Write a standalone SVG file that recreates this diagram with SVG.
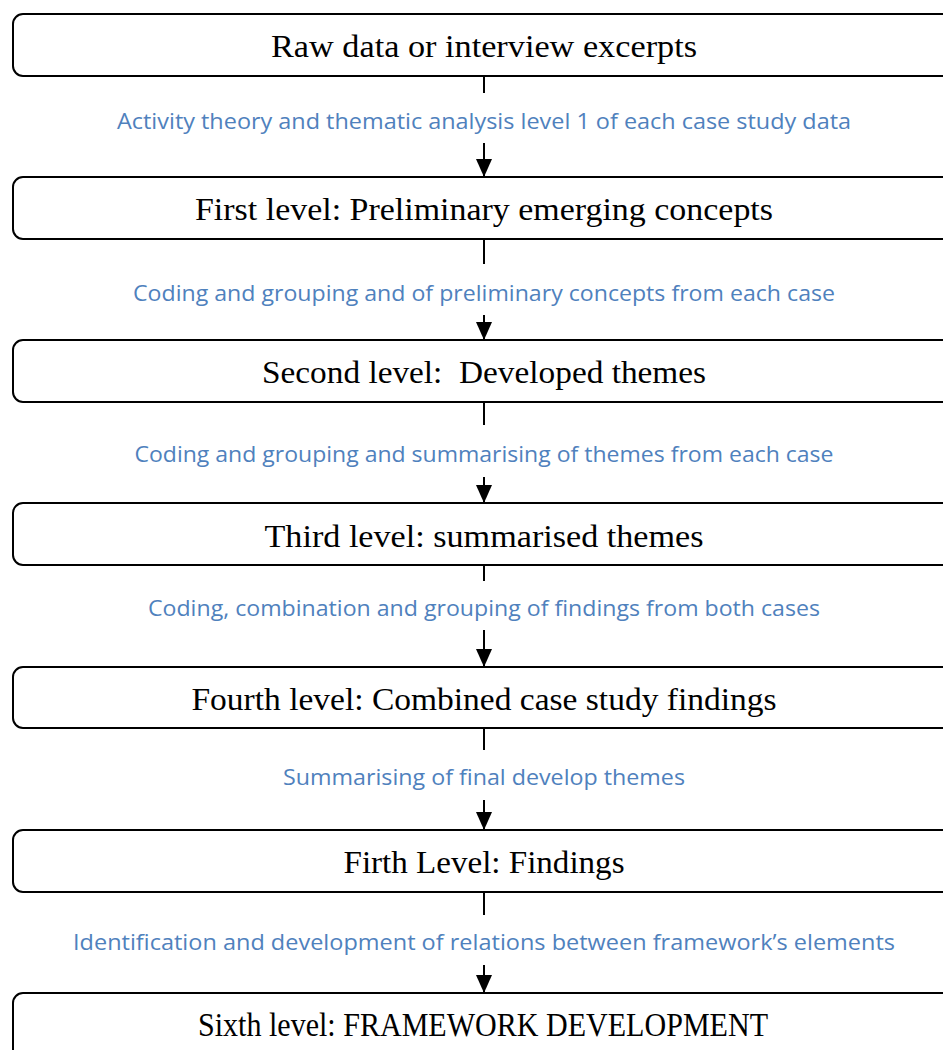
<svg xmlns="http://www.w3.org/2000/svg" width="943" height="1050" viewBox="0 0 943 1050">
<defs>
<style>
.box{fill:#fff;stroke:#000;stroke-width:2}
.t{font-family:"Liberation Serif",serif;font-size:32px;fill:#000}
.t7{font-family:"Liberation Serif",serif;font-size:34px;fill:#000}
.l{font-family:"Open Sans","Liberation Sans",sans-serif;font-size:22px;fill:#4F81BD}
.c{stroke:#000;stroke-width:2;fill:none}
</style>
<marker id="arr" viewBox="0 0 18 16" refX="18" refY="8" markerWidth="18" markerHeight="16" markerUnits="userSpaceOnUse" orient="auto">
<path d="M0,0 L18,8 L0,16 Z" fill="#000"/>
</marker>
</defs>
<rect width="943" height="1050" fill="#fff"/>
<g id="connectors">
<line class="c" x1="484" y1="76" x2="484" y2="93"/>
<line class="c" x1="484" y1="143" x2="484" y2="177" marker-end="url(#arr)"/>
<line class="c" x1="484" y1="239" x2="484" y2="264"/>
<line class="c" x1="484" y1="315" x2="484" y2="340" marker-end="url(#arr)"/>
<line class="c" x1="484" y1="402" x2="484" y2="425"/>
<line class="c" x1="484" y1="477" x2="484" y2="503" marker-end="url(#arr)"/>
<line class="c" x1="484" y1="565" x2="484" y2="581"/>
<line class="c" x1="484" y1="630" x2="484" y2="667" marker-end="url(#arr)"/>
<line class="c" x1="484" y1="728" x2="484" y2="750"/>
<line class="c" x1="484" y1="800" x2="484" y2="830" marker-end="url(#arr)"/>
<line class="c" x1="484" y1="892" x2="484" y2="915"/>
<line class="c" x1="484" y1="965" x2="484" y2="993" marker-end="url(#arr)"/>
<text class="l" x="484" y="129" text-anchor="middle" textLength="734" lengthAdjust="spacingAndGlyphs">Activity theory and thematic analysis level 1 of each case study data</text>
<text class="l" x="484" y="301" text-anchor="middle" textLength="702" lengthAdjust="spacingAndGlyphs">Coding and grouping and of preliminary concepts from each case</text>
<text class="l" x="484" y="462" text-anchor="middle" textLength="699" lengthAdjust="spacingAndGlyphs">Coding and grouping and summarising of themes from each case</text>
<text class="l" x="484" y="616" text-anchor="middle" textLength="672" lengthAdjust="spacingAndGlyphs">Coding, combination and grouping of findings from both cases</text>
<text class="l" x="484" y="785" text-anchor="middle" textLength="402" lengthAdjust="spacingAndGlyphs">Summarising of final develop themes</text>
<text class="l" x="484" y="950" text-anchor="middle" textLength="822" lengthAdjust="spacingAndGlyphs">Identification and development of relations between framework’s elements</text>
</g>
<g id="n1"><rect class="box" x="13" y="14" width="960" height="62" rx="10"/><text class="t" x="484" y="57" text-anchor="middle" textLength="426" lengthAdjust="spacingAndGlyphs">Raw data or interview excerpts</text></g>
<g id="n2"><rect class="box" x="13" y="177" width="960" height="62" rx="10"/><text class="t" x="484" y="220" text-anchor="middle" textLength="578" lengthAdjust="spacingAndGlyphs">First level: Preliminary emerging concepts</text></g>
<g id="n3"><rect class="box" x="13" y="340" width="960" height="62" rx="10"/><text class="t" x="484" y="383" text-anchor="middle" textLength="444" lengthAdjust="spacingAndGlyphs" xml:space="preserve">Second level:  Developed themes</text></g>
<g id="n4"><rect class="box" x="13" y="503" width="960" height="62" rx="10"/><text class="t" x="484" y="547" text-anchor="middle" textLength="439" lengthAdjust="spacingAndGlyphs">Third level: summarised themes</text></g>
<g id="n5"><rect class="box" x="13" y="667" width="960" height="61" rx="10"/><text class="t" x="484" y="710" text-anchor="middle" textLength="585" lengthAdjust="spacingAndGlyphs">Fourth level: Combined case study findings</text></g>
<g id="n6"><rect class="box" x="13" y="830" width="960" height="62" rx="10"/><text class="t" x="484" y="873" text-anchor="middle" textLength="281" lengthAdjust="spacingAndGlyphs">Firth Level: Findings</text></g>
<g id="n7"><rect class="box" x="13" y="993" width="960" height="80" rx="10"/><text class="t7" x="483" y="1036" text-anchor="middle" textLength="570" lengthAdjust="spacingAndGlyphs">Sixth level: FRAMEWORK DEVELOPMENT</text></g>
</svg>
